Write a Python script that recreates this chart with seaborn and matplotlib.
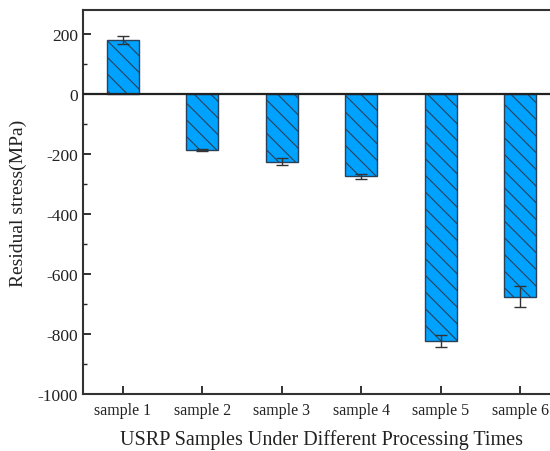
import matplotlib
matplotlib.use("Agg")
import matplotlib.pyplot as plt
import seaborn as sns
import pandas as pd
from matplotlib.ticker import MultipleLocator

samples = ["sample 1", "sample 2", "sample 3", "sample 4", "sample 5", "sample 6"]
stress = [180, -187, -225, -274, -823, -676]
errors = [12, 4, 12, 8, 19, 35]

sns.set_theme(style="ticks")
plt.rcParams['font.family'] = ['Liberation Serif', 'DejaVu Serif']
plt.rcParams['axes.unicode_minus'] = False
plt.rcParams['hatch.linewidth'] = 0.8

df = pd.DataFrame({"sample": samples, "stress": stress})

fig = plt.figure(figsize=(5.5, 4.52), dpi=100)
# axes extends past the right figure edge (reference is cropped there)
ax = fig.add_axes([83/550, 57/452, (560-83)/550, (395-11)/452])

sns.barplot(data=df, x="sample", y="stress", color="#00A2FF", width=0.4,
            edgecolor="#2a4058", linewidth=1.0, hatch="\\\\", ax=ax,
            saturation=1, errorbar=None)
ax.errorbar(range(len(samples)), stress, yerr=errors, fmt="none",
            ecolor="#333333", elinewidth=1.0, capsize=4, capthick=1.0)

ax.axhline(0, color="#222222", lw=1.6, zorder=3)
ax.set_xlim(-0.5, 5.5)
ax.set_ylim(-1000, 280)
ax.yaxis.set_major_locator(MultipleLocator(200))
ax.yaxis.set_minor_locator(MultipleLocator(100))
ax.tick_params(axis="both", direction="in", width=1.3, color="#222222",
               labelsize=12.5, colors="#222222", labelcolor="#222222")
ax.tick_params(axis="y", which="major", length=6, right=False)
ax.tick_params(axis="y", which="minor", length=3, direction="in", width=1.0, right=False)
ax.tick_params(axis="x", length=6, pad=6, labelsize=11.5, top=False)
for name in ["left", "bottom", "top"]:
    ax.spines[name].set_linewidth(1.5)
    ax.spines[name].set_color("#333333")
ax.spines["right"].set_visible(False)
ax.set_xlabel("USRP Samples Under Different Processing Times", fontsize=14.5,
              color="#222222", labelpad=8)
ax.set_ylabel("Residual stress(MPa)", fontsize=14, color="#222222", labelpad=8)

fig.savefig("out.png", dpi=100, facecolor="white", edgecolor="white")
